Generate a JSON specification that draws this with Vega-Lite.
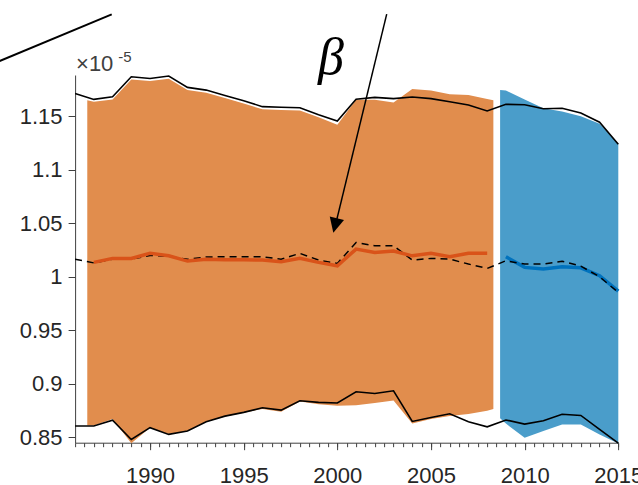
{
  "$schema": "https://vega.github.io/schema/vega-lite/v6.json",
  "width": 543.2,
  "height": 367.7,
  "autosize": {"type": "none"},
  "padding": {"left": 75.1, "top": 75, "right": 19.7, "bottom": 42.3},
  "background": "white",
  "config": {
    "view": {"stroke": null},
    "axis": {
      "labelFont": "Liberation Sans",
      "labelFontSize": 22,
      "labelColor": "#262626",
      "domainColor": "#404040",
      "tickColor": "#404040",
      "domainWidth": 1,
      "tickWidth": 1,
      "grid": false
    }
  },
  "datasets": {
    "black": [
      {"year": 1986, "upper": 1.1714, "lower": 0.8605, "dashed": 1.0165},
      {"year": 1987, "upper": 1.1658, "lower": 0.8605, "dashed": 1.0130},
      {"year": 1988, "upper": 1.1682, "lower": 0.8660, "dashed": 1.0165},
      {"year": 1989, "upper": 1.1869, "lower": 0.8480, "dashed": 1.0165},
      {"year": 1990, "upper": 1.1854, "lower": 0.8590, "dashed": 1.0200},
      {"year": 1991, "upper": 1.1876, "lower": 0.8527, "dashed": 1.0190},
      {"year": 1992, "upper": 1.1770, "lower": 0.8558, "dashed": 1.0163},
      {"year": 1993, "upper": 1.1745, "lower": 0.8645, "dashed": 1.0185},
      {"year": 1994, "upper": 1.1695, "lower": 0.8698, "dashed": 1.0187},
      {"year": 1995, "upper": 1.1645, "lower": 0.8733, "dashed": 1.0187},
      {"year": 1996, "upper": 1.1590, "lower": 0.8776, "dashed": 1.0187},
      {"year": 1997, "upper": 1.1585, "lower": 0.8754, "dashed": 1.0165},
      {"year": 1998, "upper": 1.1580, "lower": 0.8841, "dashed": 1.0219},
      {"year": 1999, "upper": 1.1515, "lower": 0.8826, "dashed": 1.0156},
      {"year": 2000, "upper": 1.1455, "lower": 0.8820, "dashed": 1.0125},
      {"year": 2001, "upper": 1.1660, "lower": 0.8925, "dashed": 1.0321},
      {"year": 2002, "upper": 1.1677, "lower": 0.8910, "dashed": 1.0290},
      {"year": 2003, "upper": 1.1665, "lower": 0.8935, "dashed": 1.0290},
      {"year": 2004, "upper": 1.1680, "lower": 0.8648, "dashed": 1.0156},
      {"year": 2005, "upper": 1.1665, "lower": 0.8685, "dashed": 1.0172},
      {"year": 2006, "upper": 1.1636, "lower": 0.8720, "dashed": 1.0165},
      {"year": 2007, "upper": 1.1605, "lower": 0.8645, "dashed": 1.0119},
      {"year": 2008, "upper": 1.1550, "lower": 0.8598, "dashed": 1.0078},
      {"year": 2009, "upper": 1.1612, "lower": 0.8662, "dashed": 1.0150},
      {"year": 2010, "upper": 1.1608, "lower": 0.8623, "dashed": 1.0119},
      {"year": 2011, "upper": 1.1570, "lower": 0.8654, "dashed": 1.0119},
      {"year": 2012, "upper": 1.1575, "lower": 0.8716, "dashed": 1.0145},
      {"year": 2013, "upper": 1.1530, "lower": 0.8704, "dashed": 1.0100},
      {"year": 2014, "upper": 1.1445, "lower": 0.8574, "dashed": 1.0000},
      {"year": 2015, "upper": 1.1238, "lower": 0.8446, "dashed": 0.9854}
    ],
    "orangeBand": [
      {"year": 1986.65, "lo": 0.8610, "hi": 1.1650},
      {"year": 1987, "lo": 0.8610, "hi": 1.1635},
      {"year": 1988, "lo": 0.8670, "hi": 1.1658},
      {"year": 1989, "lo": 0.8445, "hi": 1.1845},
      {"year": 1990, "lo": 0.8590, "hi": 1.1830},
      {"year": 1991, "lo": 0.8530, "hi": 1.1852},
      {"year": 1992, "lo": 0.8560, "hi": 1.1745},
      {"year": 1993, "lo": 0.8645, "hi": 1.1720},
      {"year": 1994, "lo": 0.8695, "hi": 1.1670},
      {"year": 1995, "lo": 0.8730, "hi": 1.1620},
      {"year": 1996, "lo": 0.8765, "hi": 1.1565},
      {"year": 1997, "lo": 0.8738, "hi": 1.1560},
      {"year": 1998, "lo": 0.8835, "hi": 1.1555},
      {"year": 1999, "lo": 0.8810, "hi": 1.1490},
      {"year": 2000, "lo": 0.8795, "hi": 1.1420},
      {"year": 2001, "lo": 0.8800, "hi": 1.1655},
      {"year": 2002, "lo": 0.8820, "hi": 1.1655},
      {"year": 2003, "lo": 0.8845, "hi": 1.1630},
      {"year": 2004, "lo": 0.8630, "hi": 1.1755},
      {"year": 2005, "lo": 0.8670, "hi": 1.1740},
      {"year": 2006, "lo": 0.8700, "hi": 1.1705},
      {"year": 2007, "lo": 0.8717, "hi": 1.1700},
      {"year": 2008, "lo": 0.8748, "hi": 1.1662},
      {"year": 2008.33, "lo": 0.8764, "hi": 1.1650}
    ],
    "blueBand": [
      {"year": 2008.69, "lo": 0.8677, "hi": 1.1745},
      {"year": 2009, "lo": 0.8628, "hi": 1.1742},
      {"year": 2010, "lo": 0.8495, "hi": 1.1657},
      {"year": 2011, "lo": 0.8560, "hi": 1.1575},
      {"year": 2012, "lo": 0.8620, "hi": 1.1545},
      {"year": 2013, "lo": 0.8620, "hi": 1.1500},
      {"year": 2014, "lo": 0.8526, "hi": 1.1430},
      {"year": 2015, "lo": 0.8443, "hi": 1.1245}
    ],
    "orangeLine": [
      {"year": 1987, "v": 1.0135},
      {"year": 1988, "v": 1.0172},
      {"year": 1989, "v": 1.0172},
      {"year": 1990, "v": 1.0219},
      {"year": 1991, "v": 1.0196},
      {"year": 1992, "v": 1.0147},
      {"year": 1993, "v": 1.0165},
      {"year": 1994, "v": 1.0160},
      {"year": 1995, "v": 1.0160},
      {"year": 1996, "v": 1.0156},
      {"year": 1997, "v": 1.0140},
      {"year": 1998, "v": 1.0172},
      {"year": 1999, "v": 1.0135},
      {"year": 2000, "v": 1.0103},
      {"year": 2001, "v": 1.0259},
      {"year": 2002, "v": 1.0228},
      {"year": 2003, "v": 1.0240},
      {"year": 2004, "v": 1.0196},
      {"year": 2005, "v": 1.0219},
      {"year": 2006, "v": 1.0187},
      {"year": 2007, "v": 1.0219},
      {"year": 2008, "v": 1.0219}
    ],
    "blueLine": [
      {"year": 2009, "v": 1.0187},
      {"year": 2010, "v": 1.0088},
      {"year": 2011, "v": 1.0072},
      {"year": 2012, "v": 1.0093},
      {"year": 2013, "v": 1.0084},
      {"year": 2014, "v": 1.0010},
      {"year": 2015, "v": 0.9866}
    ]
  },
  "resolve": {"axis": {"x": "independent"}},
  "layer": [
    {
      "data": {"name": "orangeBand"},
      "mark": {"type": "area", "color": "#E18D4D", "opacity": 1},
      "encoding": {
        "x": {
          "field": "year", "type": "quantitative", "title": null,
          "scale": {"domain": [1986, 2015], "nice": false, "zero": false},
          "axis": {
            "orient": "bottom",
            "values": [1990, 1995, 2000, 2005, 2010, 2015],
            "format": "d",
            "tickSize": 7,
            "labelPadding": 16,
            "labelFlush": false,
            "labelOverlap": false,
            "labelBound": false
          }
        },
        "y": {
          "field": "lo", "type": "quantitative", "title": null,
          "scale": {"domain": [0.84495, 1.1886], "nice": false, "zero": false},
          "axis": {
            "values": [0.85, 0.9, 0.95, 1, 1.05, 1.1, 1.15],
            "format": "~g",
            "tickSize": 7,
            "labelPadding": 6,
            "labelFlush": false,
            "labelOverlap": false
          }
        },
        "y2": {"field": "hi"}
      }
    },
    {
      "data": {"name": "blueBand"},
      "mark": {"type": "area", "color": "#4A9DCA", "opacity": 1},
      "encoding": {
        "x": {"field": "year", "type": "quantitative", "title": null, "axis": null},
        "y": {"field": "lo", "type": "quantitative", "title": null},
        "y2": {"field": "hi"}
      }
    },
    {
      "data": {"name": "black"},
      "mark": {"type": "line", "color": "black", "strokeWidth": 1.6},
      "encoding": {
        "x": {
          "field": "year", "type": "quantitative", "title": null,
          "axis": {
            "orient": "bottom",
            "values": [1986, 1986.5, 1987, 1987.5, 1988, 1988.5, 1989, 1989.5, 1990, 1990.5, 1991, 1991.5, 1992, 1992.5, 1993, 1993.5, 1994, 1994.5, 1995, 1995.5, 1996, 1996.5, 1997, 1997.5, 1998, 1998.5, 1999, 1999.5, 2000, 2000.5, 2001, 2001.5, 2002, 2002.5, 2003, 2003.5, 2004, 2004.5, 2005, 2005.5, 2006, 2006.5, 2007, 2007.5, 2008, 2008.5, 2009, 2009.5, 2010, 2010.5, 2011, 2011.5, 2012, 2012.5, 2013, 2013.5, 2014, 2014.5, 2015],
            "labels": false,
            "domain": false,
            "tickSize": 4
          }
        },
        "y": {"field": "upper", "type": "quantitative", "title": null}
      }
    },
    {
      "data": {"name": "black"},
      "mark": {"type": "line", "color": "black", "strokeWidth": 1.6},
      "encoding": {
        "x": {"field": "year", "type": "quantitative", "title": null, "axis": null},
        "y": {"field": "lower", "type": "quantitative", "title": null}
      }
    },
    {
      "data": {"name": "blueLine"},
      "mark": {"type": "line", "color": "#0072BD", "strokeWidth": 3.5},
      "encoding": {
        "x": {"field": "year", "type": "quantitative", "title": null, "axis": null},
        "y": {"field": "v", "type": "quantitative", "title": null}
      }
    },
    {
      "data": {"name": "black"},
      "mark": {"type": "line", "color": "black", "strokeWidth": 1.5, "strokeDash": [7, 5]},
      "encoding": {
        "x": {"field": "year", "type": "quantitative", "title": null, "axis": null},
        "y": {"field": "dashed", "type": "quantitative", "title": null}
      }
    },
    {
      "data": {"name": "orangeLine"},
      "mark": {"type": "line", "color": "#D95319", "strokeWidth": 3.5},
      "encoding": {
        "x": {"field": "year", "type": "quantitative", "title": null, "axis": null},
        "y": {"field": "v", "type": "quantitative", "title": null}
      }
    },
    {
      "data": {"values": [{}]},
      "mark": {"type": "rule", "color": "black", "strokeWidth": 2},
      "encoding": {
        "x": {"datum": 1981.457, "type": "quantitative", "axis": null},
        "y": {"datum": 1.198, "type": "quantitative"},
        "x2": {"datum": 1987.954},
        "y2": {"datum": 1.2452}
      }
    },
    {
      "data": {"values": [{}]},
      "mark": {"type": "rule", "color": "black", "strokeWidth": 1.5},
      "encoding": {
        "x": {"datum": 2002.636, "type": "quantitative", "axis": null},
        "y": {"datum": 1.2455, "type": "quantitative"},
        "x2": {"datum": 1999.95},
        "y2": {"datum": 1.052}
      }
    },
    {
      "data": {"values": [{}]},
      "mark": {"type": "point", "shape": "M0,0L-0.49,-1L0.49,-1Z", "filled": true, "color": "black", "opacity": 1, "size": 900, "angle": 13.7, "strokeWidth": 0},
      "encoding": {
        "x": {"datum": 1999.786, "type": "quantitative", "axis": null},
        "y": {"datum": 1.0411, "type": "quantitative"}
      }
    },
    {
      "data": {"values": [{}]},
      "mark": {"type": "text", "text": "β", "font": "Liberation Serif", "fontStyle": "italic", "fontSize": 52, "color": "black", "align": "center", "baseline": "alphabetic"},
      "encoding": {
        "x": {"datum": 1999.66, "type": "quantitative", "axis": null},
        "y": {"datum": 1.1894, "type": "quantitative"}
      }
    },
    {
      "data": {"values": [{}]},
      "mark": {"type": "text", "text": "×10", "font": "Liberation Sans", "fontSize": 22, "color": "#404040", "align": "left", "baseline": "alphabetic"},
      "encoding": {
        "x": {"datum": 1986.05, "type": "quantitative", "axis": null},
        "y": {"datum": 1.1925, "type": "quantitative"}
      }
    },
    {
      "data": {"values": [{}]},
      "mark": {"type": "text", "text": "-5", "font": "Liberation Sans", "fontSize": 15, "color": "#404040", "align": "left", "baseline": "alphabetic"},
      "encoding": {
        "x": {"datum": 1988.3, "type": "quantitative", "axis": null},
        "y": {"datum": 1.2012, "type": "quantitative"}
      }
    }
  ]
}
